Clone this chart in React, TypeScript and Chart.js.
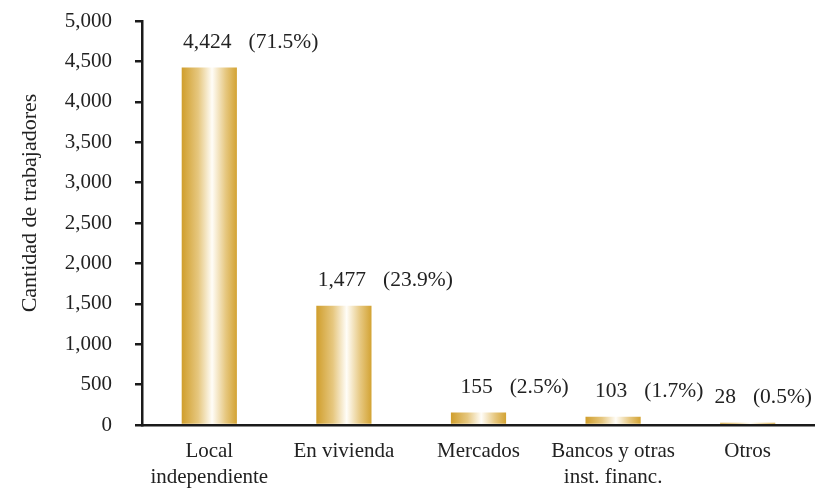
import React, { useEffect, useRef } from "react";
import { Chart, registerables } from "chart.js";

Chart.register(...registerables);

const categories: string[][] = [
  ["Local", "independiente"],
  ["En vivienda"],
  ["Mercados"],
  ["Bancos y otras", "inst. financ."],
  ["Otros"],
];
const workers: number[] = [4424, 1477, 155, 103, 28];
const shares: string[] = ["(71.5%)", "(23.9%)", "(2.5%)", "(1.7%)", "(0.5%)"];
const yTitle = "Cantidad de trabajadores";

const FONT = "'Liberation Serif', 'Times New Roman', serif";
const TEXT = "#222222";
const AXIS = "#1a1a1a";
const BAR_PCT = 0.41;

export default function App() {
  const ref = useRef<HTMLCanvasElement | null>(null);

  useEffect(() => {
    const canvas = ref.current;
    if (!canvas) return;

    const gradFor = (chart: any, i: number) => {
      const xs = chart.scales?.x;
      if (!xs || !chart.chartArea) return "#D2A131";
      const cx = xs.getPixelForValue(i);
      const w = (chart.chartArea.width / categories.length) * BAR_PCT;
      const g = chart.ctx.createLinearGradient(cx - w / 2, 0, cx + w / 2, 0);
      g.addColorStop(0, "#D09E2C");
      g.addColorStop(0.3, "#E6C77F");
      g.addColorStop(0.55, "#FFFDF8");
      g.addColorStop(0.8, "#E6C77F");
      g.addColorStop(1, "#D3A333");
      return g;
    };

    const labelPlugin = {
      id: "valueLabels",
      afterDatasetsDraw(chart: any) {
        const ctx = chart.ctx;
        const meta = chart.getDatasetMeta(0);
        ctx.save();
        ctx.font = `21.5px ${FONT}`;
        ctx.fillStyle = TEXT;
        ctx.textBaseline = "middle";
        ctx.textAlign = "left";
        const gap = 17;
        meta.data.forEach((bar: any, i: number) => {
          const txt = workers[i].toLocaleString("en-US");
          const y = bar.y - 25;
          const tw = ctx.measureText(txt).width;
          const pw = ctx.measureText(shares[i]).width;
          let left = bar.x - 2 - tw / 2;
          const right = left + tw + gap + pw;
          const maxRight = chart.width - 3;
          if (right > maxRight) left -= right - maxRight;
          ctx.fillText(txt, left, y);
          ctx.fillText(shares[i], left + tw + gap, y);
        });
        ctx.restore();
      },
    };

    const titlePlugin = {
      id: "yTitle",
      afterDraw(chart: any) {
        const ctx = chart.ctx;
        ctx.save();
        ctx.translate(30, 203);
        ctx.rotate(-Math.PI / 2);
        ctx.font = `22px ${FONT}`;
        ctx.fillStyle = TEXT;
        ctx.textAlign = "center";
        ctx.textBaseline = "middle";
        ctx.fillText(yTitle, 0, 0);
        ctx.restore();
      },
    };

    const chart = new Chart(canvas, {
      type: "bar",
      data: {
        labels: categories,
        datasets: [
          {
            data: workers,
            backgroundColor: (c: any) => gradFor(c.chart, c.dataIndex),
            borderWidth: 0,
            barPercentage: BAR_PCT,
            categoryPercentage: 1,
          },
        ],
      },
      options: {
        animation: false,
        responsive: false,
        maintainAspectRatio: false,
        layout: { padding: { top: 21, right: 0, bottom: 0, left: 0 } },
        plugins: {
          legend: { display: false },
          tooltip: { enabled: false },
        },
        scales: {
          x: {
            afterFit: (s: any) => {
              s.height = 64;
              s.paddingLeft = 0;
              s.paddingRight = 0;
            },
            grid: { display: false, drawTicks: false },
            border: { display: true, color: AXIS, width: 2.5 },
            ticks: {
              color: TEXT,
              font: { family: FONT, size: 21, lineHeight: 1.25 },
              padding: 13,
              maxRotation: 0,
              autoSkip: false,
            },
          },
          y: {
            min: 0,
            max: 5000,
            afterFit: (s: any) => {
              s.width = 142;
              s.paddingTop = 0;
              s.paddingBottom = 0;
            },
            grid: {
              display: true,
              drawOnChartArea: false,
              drawTicks: true,
              tickLength: 7,
              color: AXIS,
              lineWidth: 2.5,
            },
            border: { display: true, color: AXIS, width: 2.5 },
            ticks: {
              stepSize: 500,
              color: TEXT,
              padding: 23,
              font: { family: FONT, size: 21 },
              callback: (v: any) => Number(v).toLocaleString("en-US"),
            },
          },
        },
      },
      plugins: [labelPlugin, titlePlugin],
    });

    return () => chart.destroy();
  }, []);

  return (
    <div style={{ position: "fixed", left: 0, top: 0, width: 815, height: 489, background: "#fff" }}>
      <canvas ref={ref} width={815} height={489} style={{ display: "block" }} />
    </div>
  );
}
